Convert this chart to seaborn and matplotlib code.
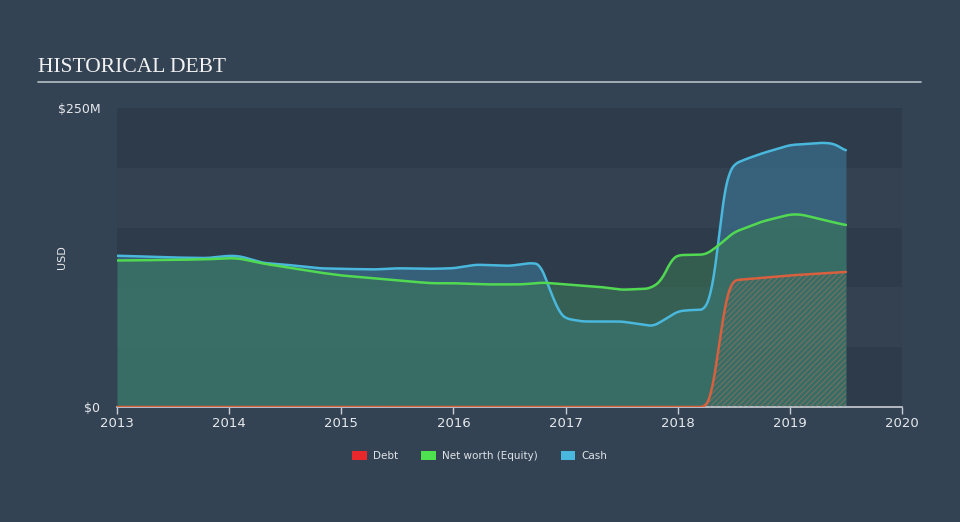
import numpy as np
import pandas as pd
import matplotlib
matplotlib.use("Agg")
import matplotlib.pyplot as plt
import seaborn as sns
from matplotlib.patches import Patch

# ---- data (USD millions, decimal years) ----
cash_t = [2013.0, 2013.5, 2013.8, 2014.0, 2014.1, 2014.3, 2014.5, 2014.8, 2015.0, 2015.3, 2015.5, 2015.8, 2016.0,
          2016.2, 2016.5, 2016.7, 2016.78, 2016.85, 2016.95, 2017.0, 2017.15, 2017.5, 2017.68, 2017.78, 2017.9, 2018.0,
          2018.1, 2018.25, 2018.3, 2018.35, 2018.4, 2018.45, 2018.5, 2018.6, 2018.75, 2019.0, 2019.3, 2019.4, 2019.5]
cash_v = [126.5, 125, 124.5, 126.5, 126, 120.5, 119, 116, 115.5, 115, 116, 115.5, 116,
          119, 118, 120.5, 119, 100, 78, 74, 71.5, 71.5, 69, 67.5, 74, 80,
          81, 81.5, 95, 125, 172, 195, 203, 207, 212, 219, 221, 220, 214]
eq_t = [2013.0, 2013.5, 2013.8, 2014.0, 2014.1, 2014.3, 2014.5, 2014.8, 2015.0, 2015.3, 2015.6, 2015.8, 2016.0,
        2016.3, 2016.6, 2016.8, 2017.0, 2017.3, 2017.5, 2017.75, 2017.85, 2017.95, 2018.0, 2018.25, 2018.35,
        2018.5, 2018.75, 2019.0, 2019.1, 2019.25, 2019.5]
eq_v = [122.5, 123, 123.5, 124.5, 124, 120, 117, 112.5, 110, 107.5, 105, 103.5, 103.5,
        102.5, 102.5, 104, 102.5, 100.5, 98, 99, 105, 124, 127, 127.5, 134,
        146, 155, 161, 161, 157.5, 152]
debt_t = [2013.0, 2018.0, 2018.25, 2018.3, 2018.35, 2018.42, 2018.47, 2018.5, 2018.75, 2019.0, 2019.5]
debt_v = [0, 0, 0, 8, 40, 85, 103, 106, 108, 110, 113]

legend_labels = ["Debt", "Net worth (Equity)", "Cash"]
x_ticks = [2013, 2014, 2015, 2016, 2017, 2018, 2019, 2020]
y_ticks = [0, 250]
y_tick_labels = ["$0", "$250M"]


def smooth(t, v, n=600):
    t = np.asarray(t, float)
    v = np.asarray(v, float)
    tt = np.linspace(t[0], t[-1], n)
    vv = np.interp(tt, t, v)
    k = 9
    w = np.ones(k) / k
    pad = np.pad(vv, (k // 2, k // 2), mode="edge")
    vs = np.convolve(pad, w, mode="valid")
    return tt, vs


sns.set_theme(style="dark")
plt.rcParams["font.family"] = ["DejaVu Sans"]
plt.rcParams["hatch.linewidth"] = 0.6

BG = "#344354"
fig = plt.figure(figsize=(9.6, 5.22), dpi=100, facecolor=BG)
ax = fig.add_axes([117 / 960, 1 - 407 / 522, 785 / 960, 299 / 522])
ax.set_facecolor("#2e3b4a")

# subtle horizontal bands
for i, (lo, hi) in enumerate([(0, 50), (50, 100), (100, 150), (150, 200), (200, 250)]):
    c = "#2e3b4a" if i % 2 == 0 else "#334151"
    ax.axhspan(lo, hi, color=c, zorder=0, lw=0)

ct, cv = smooth(cash_t, cash_v)
et, ev = smooth(eq_t, eq_v)
dt, dv = smooth(debt_t, debt_v)

ax.fill_between(ct, 0, cv, color="#3d7da0", alpha=0.55, lw=0, zorder=1)
ax.fill_between(et, 0, ev, color="#3a7a55", alpha=0.55, lw=0, zorder=2)
ax.fill_between(dt, 0, dv, facecolor="none", edgecolor="#c0705a", hatch="//////", lw=0, zorder=3, alpha=0.6)

df = pd.concat([
    pd.DataFrame({"t": ct, "v": cv, "s": "Cash"}),
    pd.DataFrame({"t": et, "v": ev, "s": "Net worth (Equity)"}),
    pd.DataFrame({"t": dt, "v": dv, "s": "Debt"}),
])
pal = {"Cash": "#4ab8dd", "Net worth (Equity)": "#52d952", "Debt": "#d9603f"}
sns.lineplot(data=df, x="t", y="v", hue="s", palette=pal, ax=ax, lw=1.8, legend=False, zorder=4,
             estimator=None, sort=False)

ax.set_xlim(2013, 2020)
ax.set_ylim(0, 250)
ax.set_xticks(x_ticks)
ax.set_xticklabels([str(x) for x in x_ticks], color="#e6e9ed", fontsize=9.5)
ax.set_yticks(y_ticks)
ax.set_yticklabels(y_tick_labels, color="#e6e9ed", fontsize=9)
ax.tick_params(axis="x", length=5, width=1, color="#c9ced6", pad=2, direction="out", bottom=True)
ax.tick_params(axis="y", length=0, pad=12)
ax.set_xlabel("")
ax.set_ylabel("USD", color="#e6e9ed", fontsize=8)
ax.yaxis.set_label_coords(-50 / 785, 0.5)
for s in ["top", "right", "left"]:
    ax.spines[s].set_visible(False)
ax.spines["bottom"].set_color("#c9ced6")
ax.spines["bottom"].set_linewidth(1.2)
ax.grid(False)

# title
fig.text(38 / 960, 1 - 67 / 522, "HISTORICAL DEBT", family="Liberation Serif", fontsize=15.5,
         color="#f2f2f2", va="center", ha="left")
fig.add_artist(plt.Line2D([38 / 960, 921 / 960], [1 - 82 / 522, 1 - 82 / 522], color="#b8bec6", lw=1.2))

# legend
handles = [Patch(facecolor=c, edgecolor="none") for c in ["#e8282b", "#4fe24f", "#48b8de"]]
fig.legend(handles, legend_labels, loc="center", bbox_to_anchor=(480 / 960, 1 - 456 / 522), ncol=3,
           frameon=False, fontsize=7.5, labelcolor="#dfe3e8", handlelength=1.4, handleheight=1.0,
           columnspacing=2.2, handletextpad=0.6)

fig.savefig("out.png", dpi=100, facecolor=BG)
